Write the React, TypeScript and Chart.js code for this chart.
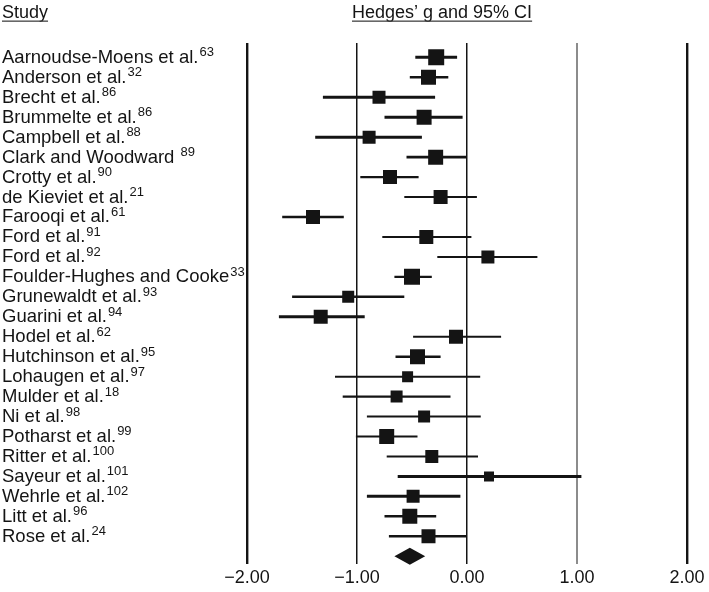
import React, { useEffect, useRef } from "react";
import { Chart, registerables } from "chart.js";

Chart.register(...registerables);

// ---- data ----
const studies = [
  "Aarnoudse-Moens et al.",
  "Anderson et al.",
  "Brecht et al.",
  "Brummelte et al.",
  "Campbell et al.",
  "Clark and Woodward ",
  "Crotty et al.",
  "de Kieviet et al.",
  "Farooqi et al.",
  "Ford et al.",
  "Ford et al.",
  "Foulder-Hughes and Cooke",
  "Grunewaldt et al.",
  "Guarini et al.",
  "Hodel et al.",
  "Hutchinson et al.",
  "Lohaugen et al.",
  "Mulder et al.",
  "Ni et al.",
  "Potharst et al.",
  "Ritter et al.",
  "Sayeur et al.",
  "Wehrle et al.",
  "Litt et al.",
  "Rose et al.",
];
const refs = [
  "63", "32", "86", "86", "88", "89", "90", "21", "61", "91", "92", "33", "93",
  "94", "62", "95", "97", "18", "98", "99", "100", "101", "102", "96", "24",
];
const effect = [
  -0.28, -0.35, -0.8, -0.39, -0.89, -0.285, -0.7, -0.24, -1.4, -0.37, 0.19, -0.5,
  -1.08, -1.33, -0.1, -0.45, -0.54, -0.64, -0.39, -0.73, -0.32, 0.2, -0.49, -0.52,
  -0.35,
];
const lower = [
  -0.47, -0.52, -1.31, -0.75, -1.38, -0.55, -0.97, -0.57, -1.68, -0.77, -0.27,
  -0.66, -1.59, -1.71, -0.49, -0.65, -1.2, -1.13, -0.91, -1.01, -0.73, -0.63,
  -0.91, -0.75, -0.71,
];
const upper = [
  -0.09, -0.17, -0.29, -0.04, -0.41, 0.0, -0.44, 0.09, -1.12, 0.04, 0.64, -0.32,
  -0.57, -0.93, 0.31, -0.24, 0.12, -0.15, 0.125, -0.45, 0.1, 1.04, -0.06, -0.28,
  0.0,
];
const pooled = { effect: -0.52, lower: -0.66, upper: -0.38 };
const xTicks = [-2, -1, 0, 1, 2];

// ---- styling ----
const INK = "#141414";
const FONT = "'Liberation Sans', Arial, Helvetica, sans-serif";
const boxSide = [16, 15, 13, 15, 13, 15, 14, 14, 14, 14, 13, 16, 12, 14, 14, 15, 11, 12, 12, 15, 13, 10, 13, 15, 14];
const ciWidth = [3, 2.6, 3, 3, 3, 2.6, 2.2, 2, 2.4, 2, 2, 2.2, 2.6, 3, 2, 2.6, 2, 2.4, 2, 2, 2, 3, 3, 2.6, 2.6];

export default function App() {
  const ref = useRef<HTMLCanvasElement>(null);

  useEffect(() => {
    const canvas = ref.current;
    if (!canvas) return;

    const forestPlugin = {
      id: "forest",
      beforeDatasetsDraw(chart: any) {
        const { ctx } = chart;
        const x = chart.scales.x;
        const y = chart.scales.y;
        ctx.save();
        ctx.strokeStyle = INK;
        ctx.lineCap = "butt";
        studies.forEach((_, i) => {
          const py = y.getPixelForValue(i);
          ctx.lineWidth = ciWidth[i];
          ctx.beginPath();
          ctx.moveTo(x.getPixelForValue(lower[i]), py);
          ctx.lineTo(x.getPixelForValue(upper[i]), py);
          ctx.stroke();
        });
        // pooled diamond
        const dy = y.getPixelForValue(studies.length);
        const half = 8.5;
        ctx.fillStyle = INK;
        ctx.beginPath();
        ctx.moveTo(x.getPixelForValue(pooled.lower), dy);
        ctx.lineTo(x.getPixelForValue(pooled.effect), dy - half);
        ctx.lineTo(x.getPixelForValue(pooled.upper), dy);
        ctx.lineTo(x.getPixelForValue(pooled.effect), dy + half);
        ctx.closePath();
        ctx.fill();
        ctx.restore();
      },
      afterDraw(chart: any) {
        const { ctx } = chart;
        const y = chart.scales.y;
        ctx.save();
        ctx.fillStyle = INK;
        ctx.textBaseline = "alphabetic";
        ctx.textAlign = "left";
        studies.forEach((name, i) => {
          const py = y.getPixelForValue(i) + 5.5;
          ctx.font = `18.5px ${FONT}`;
          ctx.fillText(name, 2, py);
          const w = ctx.measureText(name).width;
          ctx.font = `13px ${FONT}`;
          ctx.fillText(refs[i], 2 + w + 1, py - 6.5);
        });
        // headers
        const headers = [
          { text: "Study", x: 2 },
          { text: "Hedges\u2019 g and 95% CI", x: 352 },
        ];
        ctx.font = `18px ${FONT}`;
        headers.forEach((h) => {
          ctx.fillStyle = INK;
          ctx.fillText(h.text, h.x, 18);
          const w = ctx.measureText(h.text).width;
          ctx.fillStyle = "#444";
          ctx.fillRect(h.x, 20.5, w, 1.3);
        });
        ctx.restore();
      },
    };

    const chart = new Chart(canvas, {
      type: "scatter",
      data: {
        datasets: [
          {
            data: effect.map((v, i) => ({ x: v, y: i })),
            pointStyle: "rect",
            pointRadius: (c: any) => boxSide[c.dataIndex] / Math.SQRT2,
            pointHoverRadius: (c: any) => boxSide[c.dataIndex] / Math.SQRT2,
            backgroundColor: INK,
            borderWidth: 0,
          },
        ],
      },
      options: {
        animation: false,
        responsive: false,
        events: [],
        layout: { padding: { left: 247, right: 22, top: 43, bottom: 0 } },
        plugins: { legend: { display: false }, tooltip: { enabled: false } },
        scales: {
          x: {
            type: "linear",
            min: -2,
            max: 2,
            afterBuildTicks: (s: any) => {
              s.ticks = xTicks.map((v) => ({ value: v }));
            },
            border: { display: false },
            grid: {
              drawTicks: false,
              color: (c: any) => (c.tick && c.tick.value === 1 ? "#8c8c8c" : INK),
              lineWidth: (c: any) => {
                const v = c.tick ? c.tick.value : 0;
                if (Math.abs(v) === 2) return 2.4;
                if (v === 1) return 2;
                return 1.5;
              },
            },
            ticks: {
              padding: 3,
              color: INK,
              font: { size: 18, family: FONT },
              maxRotation: 0,
              callback: (v: any) => (v < 0 ? "\u2212" : "") + Math.abs(Number(v)).toFixed(2),
            },
          },
          y: {
            type: "linear",
            reverse: true,
            min: -0.72,
            max: 25.41,
            display: false,
          },
        },
      },
      plugins: [forestPlugin],
    } as any);

    return () => chart.destroy();
  }, []);

  return (
    <div style={{ position: "absolute", left: 0, top: 0, width: 709, height: 592, background: "#fff" }}>
      <canvas ref={ref} width={709} height={592} style={{ width: 709, height: 592, display: "block" }} />
    </div>
  );
}
